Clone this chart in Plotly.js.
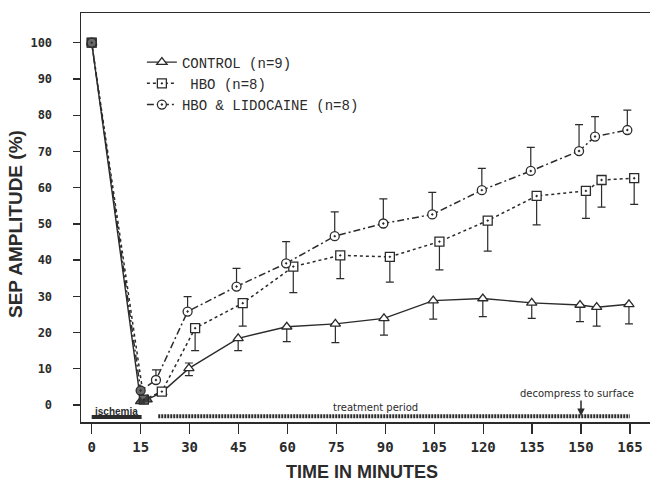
<!DOCTYPE html>
<html>
<head>
<meta charset="utf-8">
<script src="https://cdn.plot.ly/plotly-3.0.1.min.js"></script>
<style>html,body{margin:0;padding:0;background:#fff;}#chart{width:650px;height:481px;}</style>
</head>
<body>
<div id="chart"></div>
<script>
// ---- data ----
var xTicks = [0, 15, 30, 45, 60, 75, 90, 105, 120, 135, 150, 165];
var yTicks = [0, 10, 20, 30, 40, 50, 60, 70, 80, 90, 100];

var controlTime  = [0, 15, 17, 21.5, 29.8, 44.9, 59.8, 74.7, 89.6, 104.7, 119.9, 134.9, 149.7, 154.8, 164.7];
var controlMean  = [100, 1.0, 1.5, 3.5, 10.1, 18.4, 21.6, 22.4, 23.9, 28.8, 29.4, 28.2, 27.6, 27.0, 27.8];
var controlPlus  = [0, 0, 0, 0, 1.5, 0, 0, 0, 0, 0, 0, 0, 0, 0, 0];
var controlMinus = [0, 0, 0, 0, 2.0, 3.4, 4.1, 5.2, 4.6, 5.1, 5.0, 4.3, 4.6, 5.2, 5.4];

var hboTime  = [0, 16, 21.5, 31.7, 46.3, 61.8, 76.2, 91.4, 106.6, 121.4, 136.4, 151.5, 156.3, 166.3];
var hboMean  = [100, 1.5, 3.7, 21.2, 28.1, 38.2, 41.3, 40.9, 45.1, 50.9, 57.7, 59.1, 62.1, 62.6];
var hboMinus = [0, 0, 0, 6.2, 6.3, 7.2, 6.4, 7.0, 7.8, 8.4, 8.0, 7.6, 7.5, 7.2];

var lidoTime = [0, 15, 19.7, 29.4, 44.4, 59.6, 74.5, 89.4, 104.4, 119.6, 134.6, 149.4, 154.3, 164.2];
var lidoMean = [100, 4.0, 6.9, 25.8, 32.7, 39.1, 46.6, 50.1, 52.6, 59.3, 64.6, 70.1, 74.1, 75.9];
var lidoPlus = [0, 0, 2.8, 4.1, 5.0, 6.0, 6.7, 6.8, 6.1, 6.0, 6.5, 7.3, 5.5, 5.5];

var seriesNames = ["CONTROL (n=9)", "\u00A0HBO (n=8)", "HBO & LIDOCAINE (n=8)"];

var ink = '#2b2b2b';

function zeros(n) { var a = []; for (var i = 0; i < n; i++) a.push(0); return a; }

var traces = [
  {
    x: controlTime, y: controlMean, name: seriesNames[0], type: 'scatter', mode: 'lines+markers',
    line: {color: ink, width: 1.4, dash: 'solid'},
    marker: {symbol: 'triangle-up', size: 9, color: '#fff', line: {color: ink, width: 1.3}},
    error_y: {type: 'data', symmetric: false, array: controlPlus, arrayminus: controlMinus,
              color: ink, thickness: 1.2, width: 4}
  },
  {
    x: hboTime, y: hboMean, name: seriesNames[1], type: 'scatter', mode: 'lines+markers',
    line: {color: ink, width: 1.5, dash: '3px,3px'},
    marker: {symbol: 'square-dot', size: 9, color: '#fff', line: {color: ink, width: 1.3}},
    error_y: {type: 'data', symmetric: false, array: zeros(hboTime.length), arrayminus: hboMinus,
              color: ink, thickness: 1.2, width: 4}
  },
  {
    x: lidoTime, y: lidoMean, name: seriesNames[2], type: 'scatter', mode: 'lines+markers',
    line: {color: ink, width: 1.5, dash: '7px,3px,2px,3px'},
    marker: {symbol: 'circle-dot', size: 9, color: '#fff', line: {color: ink, width: 1.3}},
    error_y: {type: 'data', symmetric: false, array: lidoPlus, arrayminus: zeros(lidoTime.length),
              color: ink, thickness: 1.2, width: 4}
  },
  // baseline point and the overlapping early points, drawn filled as in the reference
  {
    x: [controlTime[0], controlTime[1], controlTime[2], hboTime[1], lidoTime[1]],
    y: [controlMean[0], controlMean[1], controlMean[2], hboMean[1], lidoMean[1]],
    type: 'scatter', mode: 'markers', showlegend: false, hoverinfo: 'skip',
    marker: {symbol: ['square', 'triangle-up', 'triangle-up', 'square', 'circle'],
             size: [9, 8, 8, 8, 8], color: ink, line: {color: ink, width: 1}}
  }
];

var layout = {
  width: 650, height: 481,
  margin: {l: 81, r: 0, t: 13, b: 59, pad: 0},
  paper_bgcolor: '#fff', plot_bgcolor: '#fff',
  showlegend: true,
  legend: {x: 0.107, y: 0.918, xanchor: 'left', yanchor: 'top', bgcolor: 'rgba(0,0,0,0)',
           font: {family: 'Liberation Mono', size: 14, color: ink}},
  xaxis: {
    range: [-3.28, 171.15], tickmode: 'array', tickvals: xTicks, ticktext: xTicks.map(String),
    showgrid: false, zeroline: false, showline: true, linecolor: ink, linewidth: 1.5, mirror: true,
    ticks: 'outside', ticklen: 10, tickwidth: 1.3, tickcolor: ink, ticklabelstandoff: 2,
    tickfont: {family: 'DejaVu Sans Mono', size: 14, color: ink, weight: 'bold'}
  },
  yaxis: {
    range: [-4.69, 108.2], tickmode: 'array', tickvals: yTicks, ticktext: yTicks.map(String),
    showgrid: false, zeroline: false, showline: true, linecolor: ink, linewidth: 1.5, mirror: false,
    ticks: 'outside', ticklen: 7, tickwidth: 1.3, tickcolor: ink, ticklabelstandoff: 18,
    tickfont: {family: 'DejaVu Sans Mono', size: 12, color: ink, weight: 'bold'}
  },
  shapes: [
    {type: 'line', xref: 'x', yref: 'y', x0: 0, x1: 15.3, y0: -3.3, y1: -3.3,
     line: {color: ink, width: 4}},
    {type: 'line', xref: 'x', yref: 'y', x0: 20.4, x1: 165, y0: -3.1, y1: -3.1,
     line: {color: ink, width: 4, dash: '2px,1px'}}
  ],
  annotations: [
    {xref: 'paper', yref: 'paper', x: 0.4933, y: -0.122, xanchor: 'center', yanchor: 'middle',
     text: 'TIME IN MINUTES', showarrow: false,
     font: {family: 'Liberation Sans', size: 18, color: ink, weight: 'bold'}},
    {xref: 'paper', yref: 'paper', x: -0.116, y: 0.484, xanchor: 'center', yanchor: 'middle',
     text: 'SEP AMPLITUDE (%)', textangle: -90, showarrow: false,
     font: {family: 'Liberation Sans', size: 19, color: ink, weight: 'bold'}},
    {xref: 'x', yref: 'y', x: 7.6, y: -1.9, text: 'ischemia', showarrow: false,
     font: {family: 'Liberation Sans', size: 10, color: ink, weight: 'bold'}},
    {xref: 'x', yref: 'y', x: 87, y: -0.75, text: 'treatment period', showarrow: false,
     font: {family: 'DejaVu Sans', size: 10, color: ink}},
    {xref: 'x', yref: 'y', x: 148.8, y: 3.2, text: 'decompress to surface', showarrow: false,
     font: {family: 'DejaVu Sans', size: 10, color: ink}},
    {xref: 'x', yref: 'y', x: 150, y: -3.0, text: '', showarrow: true, ax: 0, ay: -17,
     arrowhead: 2, arrowsize: 1, arrowwidth: 1.5, arrowcolor: ink}
  ]
};

Plotly.newPlot('chart', traces, layout, {displayModeBar: false, staticPlot: true});
</script>
</body>
</html>
